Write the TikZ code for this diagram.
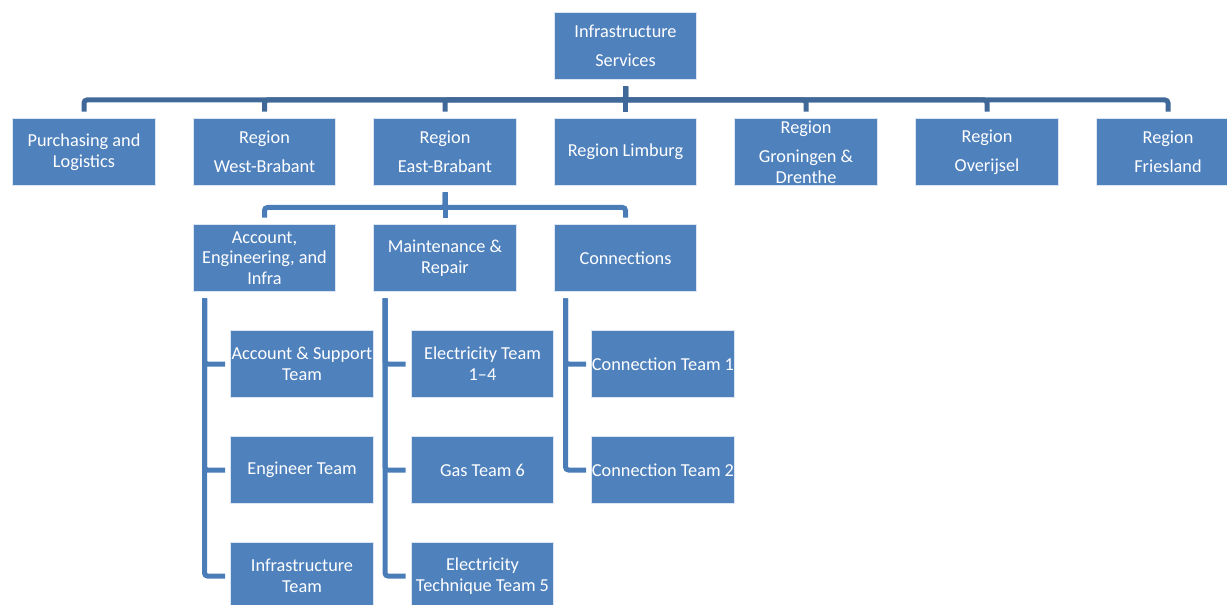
\documentclass[tikz,border=0pt]{standalone}
\usepackage{fontspec}
\setmainfont{Carlito}
\usepackage{tikz}

\definecolor{boxblue}{RGB}{79,129,189}
\definecolor{busdark}{RGB}{64,104,153}
\definecolor{buslight}{RGB}{74,124,184}

\tikzset{
  unit/.style={fill=boxblue,draw=white!80!boxblue,line width=0.02cm,text=white,align=center,
    minimum width=2.86cm,minimum height=1.36cm,inner sep=0pt,
    font=\fontsize{10.4pt}{11.8pt}\selectfont},
  topbus/.style={busdark,line width=0.1cm,rounded corners=0.06cm},
  subbus/.style={buslight,line width=0.1cm,rounded corners=0.06cm}
}

\begin{document}
\begin{tikzpicture}[x=0.02cm,y=-0.02cm]

\useasboundingbox (0,0) rectangle (1227,605);
\clip (0,0) rectangle (1227,605);


\node [unit] (infra) at (625.5,46) {Infrastructure\\[4.7pt]Services};

\node [unit] (purch) at (84,152) {Purchasing and\\Logistics};
\node [unit] (westbr) at (264.5,152) {Region\\[4.7pt]West-Brabant};
\node [unit] (eastbr) at (445,152) {Region\\[4.7pt]East-Brabant};
\node [unit] (limb) at (625.5,152) {Region Limburg};
\node [unit] (gron) at (806,152) {Region\\[4.7pt]Groningen \&\\Drenthe};
\node [unit] (overij) at (987,152) {Region\\[4.7pt]Overijsel};
\node [unit] (fries) at (1168,152) {Region\\[4.7pt]Friesland};


\node [unit] (aei) at (264.5,258) {Account,\\Engineering, and\\Infra};
\node [unit] (maint) at (445,258) {Maintenance \&\\Repair};
\node [unit] (conn) at (625.5,258) {Connections};


\node [unit] (accsup) at (302,364) {Account \& Support\\Team};
\node [unit] (engteam) at (302,470) {Engineer Team};
\node [unit] (infteam) at (302,576) {Infrastructure\\Team};

\node [unit] (elec) at (482.5,364) {Electricity Team\\1–4};
\node [unit] (gas) at (482.5,470) {Gas Team 6};
\node [unit] (electech) at (482.5,576) {Electricity\\Technique Team 5};

\node [unit] (conone) at (663,364) {Connection Team 1};
\node [unit] (contwo) at (663,470) {Connection Team 2};


% top level
\draw[topbus] ([yshift=-0.12cm]infra.south) -- ++(0,13.5) -| ([yshift=0.12cm]purch.north);
\draw[topbus] ([yshift=-0.12cm]infra.south) -- ++(0,13.5) -| ([yshift=0.12cm]westbr.north);
\draw[topbus] ([yshift=-0.12cm]infra.south) -- ++(0,13.5) -| ([yshift=0.12cm]eastbr.north);
\draw[topbus] ([yshift=-0.12cm]infra.south) -- ([yshift=0.12cm]limb.north);
\draw[topbus] ([yshift=-0.12cm]infra.south) -- ++(0,13.5) -| ([yshift=0.12cm]gron.north);
\draw[topbus] ([yshift=-0.12cm]infra.south) -- ++(0,13.5) -| ([yshift=0.12cm]overij.north);
\draw[topbus] ([yshift=-0.12cm]infra.south) -- ++(0,13.5) -| ([yshift=0.12cm]fries.north);

% East-Brabant
\draw[subbus] ([yshift=-0.12cm]eastbr.south) -- ++(0,15) -| ([yshift=0.12cm]aei.north);
\draw[subbus] ([yshift=-0.12cm]eastbr.south) -- ([yshift=0.12cm]maint.north);
\draw[subbus] ([yshift=-0.12cm]eastbr.south) -- ++(0,15) -| ([yshift=0.12cm]conn.north);

% teams
\draw[subbus] ([shift={(0.24cm,-0.12cm)}]aei.south west) |- ([xshift=-0.1cm]accsup.west);
\draw[subbus] ([shift={(0.24cm,-0.12cm)}]aei.south west) |- ([xshift=-0.1cm]engteam.west);
\draw[subbus] ([shift={(0.24cm,-0.12cm)}]aei.south west) |- ([xshift=-0.1cm]infteam.west);

\draw[subbus] ([shift={(0.24cm,-0.12cm)}]maint.south west) |- ([xshift=-0.1cm]elec.west);
\draw[subbus] ([shift={(0.24cm,-0.12cm)}]maint.south west) |- ([xshift=-0.1cm]gas.west);
\draw[subbus] ([shift={(0.24cm,-0.12cm)}]maint.south west) |- ([xshift=-0.1cm]electech.west);

\draw[subbus] ([shift={(0.24cm,-0.12cm)}]conn.south west) |- ([xshift=-0.1cm]conone.west);
\draw[subbus] ([shift={(0.24cm,-0.12cm)}]conn.south west) |- ([xshift=-0.1cm]contwo.west);


\end{tikzpicture}
\end{document}
